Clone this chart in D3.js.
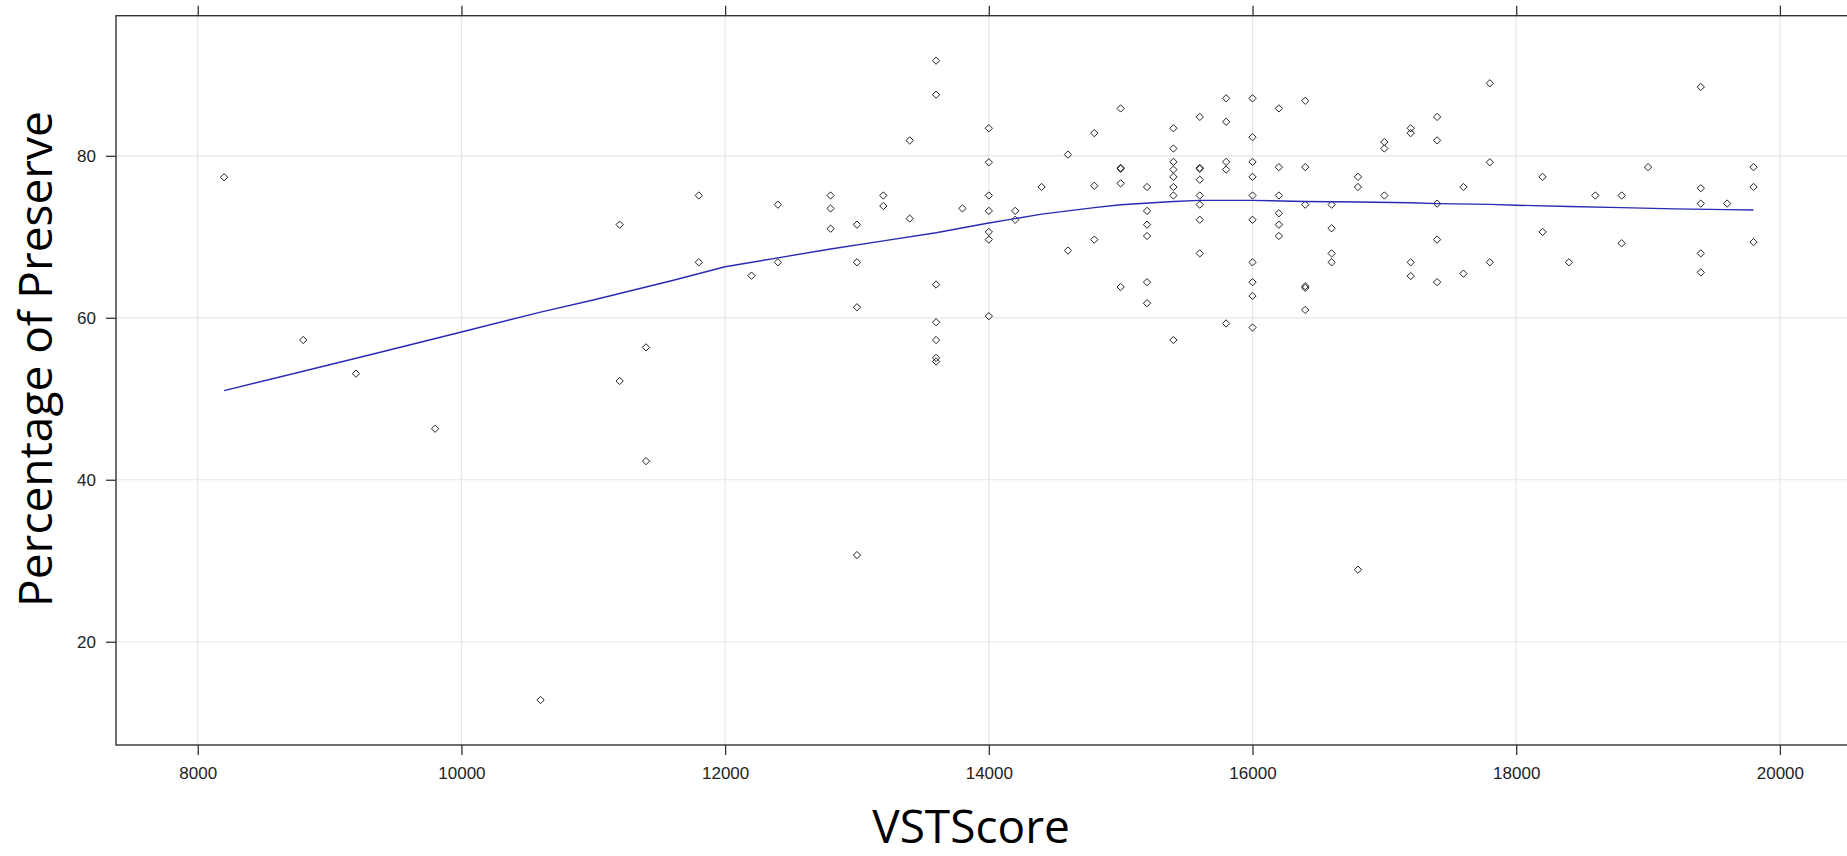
<!DOCTYPE html>
<html>
<head>
<meta charset="utf-8">
<script src="https://cdn.jsdelivr.net/npm/d3@7"></script>
<style>
    body { margin: 0; background: #fff; }
    svg { display: block; }
</style>
</head>
<body>
<svg id="chart" width="1847" height="856"></svg>
<script>
// VSTScore levels (x) and the Percentage of Preserve values seen at each one
const scoreLevels = [8200, 8800, 9200, 9800, 10600, 11200, 11400, 11800, 12200, 12400,
    12800, 13000, 13200, 13400, 13600, 13800, 14000, 14200, 14400, 14600,
    14800, 15000, 15200, 15400, 15600, 15800, 16000, 16200, 16400, 16600,
    16800, 17000, 17200, 17400, 17600, 17800, 18200, 18400, 18600, 18800,
    19000, 19400, 19600, 19800];

const preserveByLevel = [
    [77.35], [57.26], [53.1], [46.3], [12.8],
    [71.5, 52.2], [56.35, 42.3], [75.1, 66.85], [65.2], [73.97, 66.85],
    [75.1, 73.5, 71.0], [71.5, 66.85, 61.3, 30.7], [75.1, 73.8], [81.9, 72.25],
    [91.75, 87.55, 64.1, 59.45, 57.25, 55.05, 54.6], [73.5],
    [83.4, 79.2, 75.1, 73.2, 70.6, 69.65, 60.2], [73.2, 72.1], [76.15], [80.15, 68.3],
    [82.8, 76.3, 69.65], [85.85, 78.5, 78.4, 76.6, 63.8],
    [76.15, 73.2, 71.5, 70.1, 64.4, 61.8],
    [83.4, 80.9, 79.25, 78.3, 77.4, 76.15, 75.1, 57.25],
    [84.8, 78.5, 78.4, 77.05, 75.1, 73.97, 72.1, 67.95],
    [87.1, 84.2, 79.25, 78.3, 59.3],
    [87.1, 82.3, 79.25, 77.4, 75.1, 72.1, 66.85, 64.4, 62.7, 58.8],
    [85.85, 78.6, 75.1, 72.9, 71.5, 70.1],
    [86.8, 78.6, 73.97, 63.9, 63.7, 60.97],
    [73.97, 71.05, 67.95, 66.85],
    [77.4, 76.15, 28.9], [81.7, 80.9, 75.1], [83.4, 82.8, 66.85, 65.15],
    [84.8, 81.9, 74.1, 69.65, 64.4], [76.15, 65.45], [88.95, 79.2, 66.85],
    [77.4, 70.6], [66.85], [75.1], [75.1, 69.2], [78.6],
    [88.5, 76.0, 74.1, 67.95, 65.6], [74.1], [78.6, 76.15, 69.35]
];

// smoother line
const smoothX = [8200, 8800, 9400, 10000, 10600, 11000, 11600, 12000, 12400, 12800,
    13200, 13600, 14000, 14400, 14800, 15000, 15400, 15600, 16000, 16400,
    16800, 17200, 17400, 17800, 18000, 18400, 18800, 19200, 19600, 19800];
const smoothY = [51.0, 53.4, 55.8, 58.25, 60.7, 62.2, 64.6, 66.3, 67.4, 68.5,
    69.5, 70.5, 71.7, 72.8, 73.6, 73.95, 74.35, 74.5, 74.5, 74.35,
    74.3, 74.2, 74.1, 74.0, 73.9, 73.75, 73.6, 73.45, 73.35, 73.3];

const xTicks = [8000, 10000, 12000, 14000, 16000, 18000, 20000];
const yTicks = [20, 40, 60, 80];

const points = [];
scoreLevels.forEach((s, i) => {
    preserveByLevel[i].forEach(v => points.push({ score: s, preserve: v }));
});

const svg = d3.select('#chart');

const x = d3.scaleLinear().domain([7380, 20600]).range([116, 1859]);
const y = d3.scaleLinear().domain([7.25, 97.3]).range([745, 15.7]);

const [x0, x1] = x.range();
const [yb, yt] = y.range();

// grid
svg.append('g')
    .selectAll('line')
    .data(xTicks)
    .enter().append('line')
    .attr('x1', d => x(d)).attr('x2', d => x(d))
    .attr('y1', yt).attr('y2', yb)
    .attr('stroke', '#e6e6e6').attr('stroke-width', 1.2);

svg.append('g')
    .selectAll('line')
    .data(yTicks)
    .enter().append('line')
    .attr('x1', x0).attr('x2', x1)
    .attr('y1', d => y(d)).attr('y2', d => y(d))
    .attr('stroke', '#e6e6e6').attr('stroke-width', 1.2);

// axes: bottom with labels, top ticks only, left with labels
const axisStyle = g => {
    g.select('.domain').remove();
    g.selectAll('.tick line').attr('stroke', '#333').attr('stroke-width', 1.3);
    g.selectAll('.tick text')
        .attr('fill', '#222')
        .style('font-family', '"Liberation Sans", Arial, sans-serif')
        .style('font-size', '17px');
};

svg.append('g')
    .attr('transform', `translate(0,${yb})`)
    .call(d3.axisBottom(x).tickValues(xTicks).tickSize(10).tickPadding(12).tickFormat(d3.format('d')))
    .call(axisStyle);

svg.append('g')
    .attr('transform', `translate(0,${yt})`)
    .call(d3.axisTop(x).tickValues(xTicks).tickSize(10).tickFormat(''))
    .call(axisStyle);

svg.append('g')
    .attr('transform', `translate(${x0},0)`)
    .call(d3.axisLeft(y).tickValues(yTicks).tickSize(10).tickPadding(10))
    .call(axisStyle);

// frame
svg.append('rect')
    .attr('x', x0).attr('y', yt)
    .attr('width', x1 - x0).attr('height', yb - yt)
    .attr('fill', 'none')
    .attr('stroke', '#333')
    .attr('stroke-width', 1.4);

// points as open diamonds
const diamond = d3.symbol().type(d3.symbolDiamond2).size(34);
svg.append('g')
    .selectAll('path')
    .data(points)
    .enter().append('path')
    .attr('d', diamond)
    .attr('transform', d => `translate(${x(d.score)},${y(d.preserve)})`)
    .attr('fill', 'none')
    .attr('stroke', '#222')
    .attr('stroke-width', 1);

// smooth line
const line = d3.line()
    .x((d, i) => x(smoothX[i]))
    .y(d => y(d));

svg.append('path')
    .datum(smoothY)
    .attr('d', line)
    .attr('fill', 'none')
    .attr('stroke', '#2a2ab4')
    .attr('stroke-width', 1.4);

// titles
svg.append('text')
    .attr('x', 971).attr('y', 843)
    .attr('text-anchor', 'middle')
    .style('font-family', '"Open Sans", sans-serif')
    .style('font-size', '46px')
    .text('VSTScore');

svg.append('text')
    .attr('transform', 'translate(52,359) rotate(-90)')
    .attr('text-anchor', 'middle')
    .style('font-family', '"Open Sans", sans-serif')
    .style('font-size', '46px')
    .text('Percentage of Preserve');
</script>
</body>
</html>
